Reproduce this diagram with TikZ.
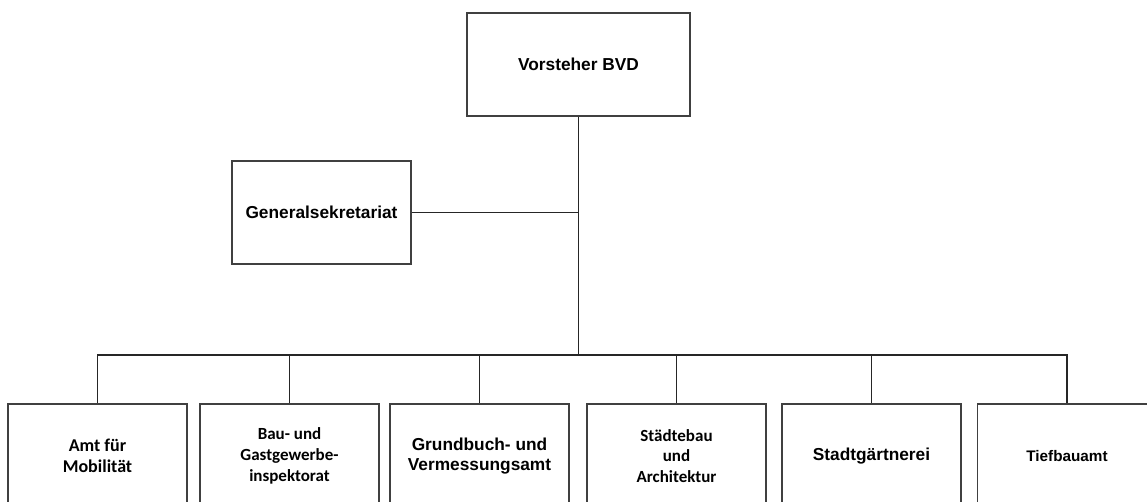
\documentclass[tikz,border=0pt]{standalone}
\usepackage{fontspec}
\setmainfont{Liberation Sans}
\newfontfamily\calfont{Carlito}
\begin{document}
\begin{tikzpicture}[x=1bp,y=-1bp,
  box/.style={draw=black!75, line width=1.4bp, fill=white, align=center,
    inner sep=0pt, font=\bfseries\fontsize{17.3bp}{20bp}\selectfont},
  bottombox/.style={box, minimum width=179bp, minimum height=104bp},
  calbox/.style={bottombox, font=\calfont\bfseries\fontsize{18bp}{21bp}\selectfont},
  wire/.style={draw=black!85, line width=1.3bp}]
\useasboundingbox (0,0) rectangle (1147,502);
\clip (0,0) rectangle (1147,502);
% boxes
\node[box, minimum width=223bp, minimum height=103bp] (top) at (578.5,64.5) {Vorsteher BVD};
\node[box, minimum width=179bp, minimum height=103bp] (gen) at (321.5,212.5) {Generalsekretariat};
\node[calbox] (b1) at (97.5,456) {Amt für\\Mobilität};
\node[calbox, font=\calfont\bfseries\fontsize{17bp}{21bp}\selectfont] (b2) at (289.5,456) {Bau- und\\Gastgewerbe-\\inspektorat};
\node[bottombox] (b3) at (479.5,456) {Grundbuch- und\\Vermessungsamt};
\node[calbox, font=\calfont\bfseries\fontsize{17bp}{20.5bp}\selectfont] (b4) at (676.5,456) {Städtebau\\und\\Architektur};
\node[bottombox] (b5) at (871.5,456) {Stadtgärtnerei};
\node[bottombox, font=\bfseries\fontsize{15.3bp}{18bp}\selectfont] (b6) at (1067,456) {Tiefbauamt};
% connectors
\coordinate (j1) at (top.south |- gen.east);
\coordinate (bus) at (578.5,355);
\draw[wire] (top.south) -- (j1) -- (bus);
\draw[wire] (gen.east) -- (j1);
\foreach \b in {b1,b2,b3,b4,b5,b6}{
  \draw[wire] (bus) -| (\b.north);
}
\end{tikzpicture}
\end{document}
